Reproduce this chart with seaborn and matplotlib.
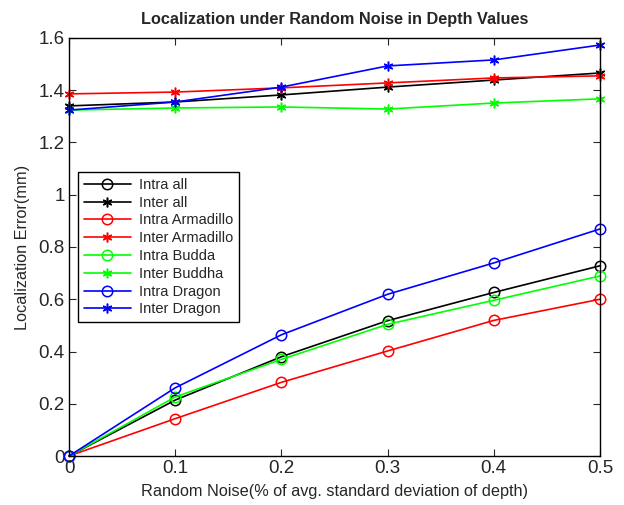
import numpy as np
import pandas as pd
import matplotlib
matplotlib.use("Agg")
import matplotlib.pyplot as plt
import seaborn as sns

noise = [0, 0.1, 0.2, 0.3, 0.4, 0.5]

intra_all = [0, 0.214, 0.380, 0.518, 0.626, 0.728]
inter_all = [1.340, 1.355, 1.382, 1.412, 1.439, 1.466]
intra_armadillo = [0, 0.143, 0.282, 0.402, 0.519, 0.600]
inter_armadillo = [1.386, 1.393, 1.409, 1.428, 1.447, 1.455]
intra_budda = [0, 0.226, 0.370, 0.504, 0.596, 0.689]
inter_buddha = [1.324, 1.332, 1.336, 1.328, 1.351, 1.367]
intra_dragon = [0, 0.261, 0.464, 0.619, 0.739, 0.869]
inter_dragon = [1.324, 1.355, 1.412, 1.493, 1.516, 1.573]

series = [
    ("Intra all", intra_all, "black", "o"),
    ("Inter all", inter_all, "black", "*"),
    ("Intra Armadillo", intra_armadillo, "red", "o"),
    ("Inter Armadillo", inter_armadillo, "red", "*"),
    ("Intra Budda", intra_budda, "lime", "o"),
    ("Inter Buddha", inter_buddha, "lime", "*"),
    ("Intra Dragon", intra_dragon, "blue", "o"),
    ("Inter Dragon", inter_dragon, "blue", "*"),
]

sns.set_theme(style="ticks")
plt.rcParams["font.family"] = ["Liberation Sans", "DejaVu Sans"]
plt.rcParams["xtick.direction"] = "in"
plt.rcParams["ytick.direction"] = "in"

fig = plt.figure(figsize=(6.24, 5.05), dpi=100)
ax = fig.add_axes([0.1106, 0.097, 0.8509, 0.8278])

for name, vals, color, mk in series:
    df = pd.DataFrame({"noise": noise, "err": vals})
    if mk == "o":
        sns.lineplot(data=df, x="noise", y="err", ax=ax, color=color, label=name,
                     marker="o", markersize=7.5, markerfacecolor="none",
                     markeredgecolor=color, markeredgewidth=1.1, linewidth=1.2,
                     clip_on=False)
    else:
        sns.lineplot(data=df, x="noise", y="err", ax=ax, color=color, label=name,
                     marker=(6, 2, 0), markersize=7,
                     markeredgecolor=color, markeredgewidth=1.1, linewidth=1.2,
                     clip_on=False)

ax.set_xlim(0, 0.5)
ax.set_ylim(0, 1.6)
ax.set_xticks(noise)
ax.set_xticklabels(["0", "0.1", "0.2", "0.3", "0.4", "0.5"])
ax.set_yticks([0, 0.2, 0.4, 0.6, 0.8, 1.0, 1.2, 1.4, 1.6])
ax.set_yticklabels(["0", "0.2", "0.4", "0.6", "0.8", "1", "1.2", "1.4", "1.6"])
ax.tick_params(axis="both", labelsize=13.5, length=5, width=0.8, top=True, right=True, pad=3)
for s in ax.spines.values():
    s.set_visible(True)
    s.set_linewidth(1.0)
    s.set_color("black")

ax.set_xlabel("Random Noise(% of avg. standard deviation of depth)", fontsize=11.7, labelpad=5)
ax.set_ylabel("Localization Error(mm)", fontsize=11.7, labelpad=6)
ax.set_title("Localization under Random Noise in Depth Values", fontsize=11.7,
             fontweight="bold", pad=10)

leg = ax.legend(loc="lower left", bbox_to_anchor=(0.017, 0.32), borderaxespad=0,
                fontsize=10.5, frameon=True, fancybox=False, framealpha=1,
                handlelength=3.2, labelspacing=0.26, borderpad=0.4, handletextpad=0.6)
leg.get_frame().set_edgecolor("black")
leg.get_frame().set_linewidth(1.0)

fig.savefig("out.png", dpi=100)
